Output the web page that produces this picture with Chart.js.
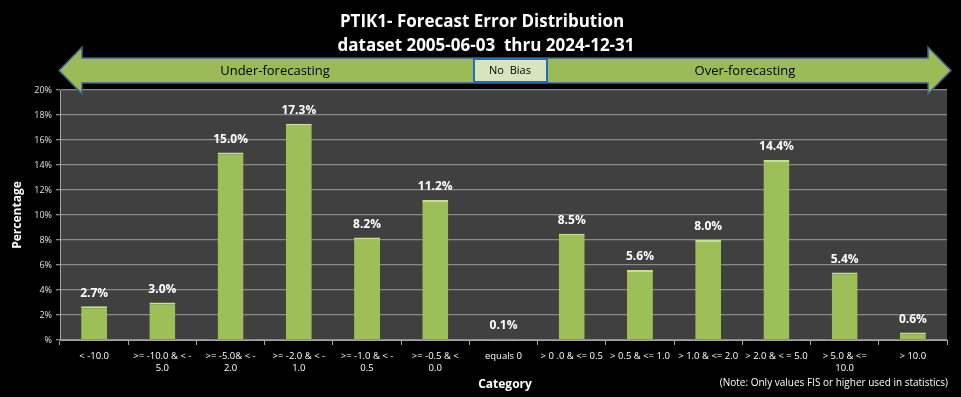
<!DOCTYPE html>
<html>
<head>
<meta charset="utf-8">
<script src="https://cdn.jsdelivr.net/npm/chart.js@4.4.1/dist/chart.umd.min.js"></script>
<style>
  html, body { margin: 0; padding: 0; background: #000; }
  #wrap { width: 961px; height: 397px; position: relative; }
</style>
</head>
<body>
<div id="wrap"><canvas id="errChart" width="961" height="397"></canvas></div>
<script>
const FONT = '"Open Sans", sans-serif';

const titleLines = ['PTIK1- Forecast Error Distribution', 'dataset 2005-06-03  thru 2024-12-31'];
const categories = [
  '< -10.0',
  ['>= -10.0 & < -', '5.0'],
  ['>= -5.0& < -', '2.0'],
  ['>= -2.0 & < -', '1.0'],
  ['>= -1.0 & < -', '0.5'],
  ['>= -0.5 & <', '0.0'],
  'equals 0',
  '> 0 .0 & <= 0.5',
  '> 0.5 & <= 1.0',
  '> 1.0 & <= 2.0',
  '> 2.0 & < = 5.0',
  ['> 5.0 & <=', '10.0'],
  '> 10.0',
];
const percentages = [2.7, 3.0, 15.0, 17.3, 8.2, 11.2, 0.1, 8.5, 5.6, 8.0, 14.4, 5.4, 0.6];
const yTicks = [0, 2, 4, 6, 8, 10, 12, 14, 16, 18, 20];

// plot background, arrow banner, titles, value labels
const decorPlugin = {
  id: 'decor',
  beforeDraw(chart) {
    const { ctx, chartArea: a } = chart;
    ctx.save();
    ctx.fillStyle = '#000';
    ctx.fillRect(0, 0, chart.width, chart.height);
    ctx.fillStyle = '#404040';
    ctx.fillRect(a.left, a.top, a.right - a.left, a.bottom - a.top);
    ctx.restore();
  },
  afterDraw(chart) {
    const { ctx, chartArea: a } = chart;
    ctx.save();

    // titles
    ctx.fillStyle = '#fff';
    ctx.textAlign = 'center';
    ctx.textBaseline = 'middle';
    ctx.font = 'bold 17px ' + FONT;
    ctx.fillText(titleLines[0], 482, 22);
    ctx.fillText(titleLines[1], 486, 46);

    // double arrow
    const l = a.left - 1, r = a.right + 4, cy = 70.5;
    ctx.beginPath();
    ctx.moveTo(l, cy);
    ctx.lineTo(l + 23, 47);
    ctx.lineTo(l + 23, 58);
    ctx.lineTo(r - 23, 58);
    ctx.lineTo(r - 23, 47);
    ctx.lineTo(r, cy);
    ctx.lineTo(r - 23, 94);
    ctx.lineTo(r - 23, 83);
    ctx.lineTo(l + 23, 83);
    ctx.lineTo(l + 23, 94);
    ctx.closePath();
    ctx.fillStyle = '#9BBB59';
    ctx.fill();
    ctx.strokeStyle = '#3F5F8F';
    ctx.lineWidth = 1.5;
    ctx.stroke();

    ctx.fillStyle = '#D7E4BD';
    ctx.fillRect(474, 59, 73, 23);
    ctx.strokeStyle = '#1F6FB8';
    ctx.lineWidth = 2;
    ctx.strokeRect(474, 59, 73, 23);

    ctx.fillStyle = '#000';
    ctx.font = '11px ' + FONT;
    ctx.fillText('No  Bias', 510, 71);
    ctx.font = '13px ' + FONT;
    ctx.fillText('Under-forecasting', 275, 71);
    ctx.fillText('Over-forecasting', 745, 71);

    // axis titles and note
    ctx.fillStyle = '#fff';
    ctx.font = 'bold 12px ' + FONT;
    ctx.fillText('Category', 505, 385);
    ctx.save();
    ctx.translate(18, 215);
    ctx.rotate(-Math.PI / 2);
    ctx.fillText('Percentage', 0, 0);
    ctx.restore();
    ctx.font = '10px ' + FONT;
    ctx.textAlign = 'right';
    ctx.fillText('(Note: Only values FIS or higher used in statistics)', 948, 383);

    // value labels
    const meta = chart.getDatasetMeta(0);
    ctx.textAlign = 'center';
    ctx.font = 'bold 12px ' + FONT;
    meta.data.forEach((bar, i) => {
      ctx.fillText(percentages[i].toFixed(1) + '%', bar.x, bar.y - 13);
    });
    ctx.restore();
  },
};

new Chart(document.getElementById('errChart'), {
  type: 'bar',
  data: {
    labels: categories,
    datasets: [{
      data: percentages,
      backgroundColor: '#9DBF58',
      borderColor: '#C8E08E',
      borderWidth: { top: 2, left: 0, right: 0, bottom: 0 },
      barPercentage: 0.38,
      categoryPercentage: 1,
    }],
  },
  options: {
    responsive: false,
    animation: false,
    devicePixelRatio: 1,
    layout: { padding: { top: 90, right: 14, left: 0, bottom: 0 } },
    plugins: {
      legend: { display: false },
      tooltip: { enabled: false },
    },
    scales: {
      x: {
        offset: true,
        grid: {
          offset: true,
          drawOnChartArea: false,
          drawTicks: true,
          tickLength: 5,
          color: '#a6a6a6',
        },
        border: { color: '#a6a6a6' },
        ticks: {
          color: '#fff',
          font: { family: FONT, size: 9.5 },
          maxRotation: 0,
          autoSkip: false,
          padding: 6,
        },
        afterFit(scale) { scale.height = 57; },
      },
      y: {
        min: 0,
        max: 20,
        afterBuildTicks(scale) { scale.ticks = yTicks.map((v) => ({ value: v })); },
        grid: { color: '#8a8a8a', tickLength: 4, lineWidth: 1.3 },
        border: { color: '#a6a6a6' },
        ticks: {
          color: '#e0e0e0',
          font: { family: FONT, size: 9 },
          padding: 4,
          callback: (v) => (v === 0 ? '%' : v + '%'),
        },
        afterFit(scale) { scale.width = 60; },
      },
    },
  },
  plugins: [decorPlugin],
});
</script>
</body>
</html>
